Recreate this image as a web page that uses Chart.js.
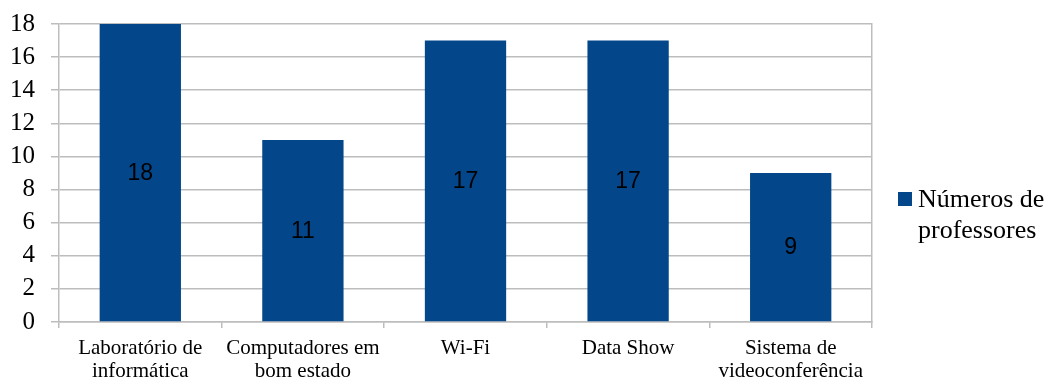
<!DOCTYPE html>
<html>
<head>
<meta charset="utf-8">
<script src="https://cdn.jsdelivr.net/npm/chart.js@4/dist/chart.umd.min.js"></script>
<style>
  html, body { margin: 0; padding: 0; background: #ffffff; }
  #wrap { width: 1051px; height: 379px; }
</style>
</head>
<body>
<div id="wrap"><canvas id="chart" width="1051" height="379"></canvas></div>
<script>
// Recursos disponíveis na escola
const categories = [
  ["Laboratório de", "informática"],
  ["Computadores em", "bom estado"],
  ["Wi-Fi"],
  ["Data Show"],
  ["Sistema de", "videoconferência"]
];
const seriesLabel = "Números de professores";
const professores = [18, 11, 17, 17, 9];
const yTicks = [0, 2, 4, 6, 8, 10, 12, 14, 16, 18];

const BAR = "#03468a";
const GRID = "#bdbdbd";
const SERIF = "'Liberation Serif', 'Times New Roman', serif";
const SANS = "'Liberation Sans', Arial, sans-serif";

// Value written in the middle of each bar
const barValues = {
  id: "barValues",
  afterDatasetsDraw(chart) {
    const ctx = chart.ctx;
    chart.data.datasets.forEach((ds, di) => {
      chart.getDatasetMeta(di).data.forEach((bar, i) => {
        ctx.save();
        ctx.font = "23px " + SANS;
        ctx.fillStyle = "#000000";
        ctx.textAlign = "center";
        ctx.textBaseline = "middle";
        ctx.fillText(String(ds.data[i]), bar.x, (bar.y + bar.base) / 2 + 1);
        ctx.restore();
      });
    });
  }
};

// Legend on the right with the label wrapped onto two lines
const sideLegend = {
  id: "sideLegend",
  afterDraw(chart) {
    const ctx = chart.ctx;
    const ds = chart.data.datasets[0];
    ctx.save();
    ctx.font = "26px " + SERIF;
    const maxW = 132;
    const words = ds.label.split(" ");
    const lines = [];
    let cur = "";
    words.forEach(w => {
      const t = cur ? cur + " " + w : w;
      if (ctx.measureText(t).width > maxW && cur) { lines.push(cur); cur = w; }
      else cur = t;
    });
    if (cur) lines.push(cur);
    ctx.fillStyle = ds.backgroundColor;
    ctx.fillRect(898, 192, 14, 14);
    ctx.fillStyle = "#000000";
    ctx.textAlign = "left";
    ctx.textBaseline = "alphabetic";
    lines.forEach((ln, k) => {
      ctx.fillText(ln, 918, 207 + k * 31);
    });
    ctx.restore();
  }
};

new Chart(document.getElementById("chart"), {
  type: "bar",
  data: {
    labels: categories,
    datasets: [{
      label: seriesLabel,
      data: professores,
      backgroundColor: BAR,
      borderWidth: 0,
      barPercentage: 0.5,
      categoryPercentage: 1.0
    }]
  },
  options: {
    responsive: false,
    animation: false,
    devicePixelRatio: 1,
    layout: { padding: { top: 24, right: 179, left: 0, bottom: 0 } },
    plugins: {
      legend: { display: false },
      tooltip: { enabled: false }
    },
    scales: {
      x: {
        offset: true,
        grid: {
          offset: true,
          drawOnChartArea: false,
          drawTicks: true,
          tickLength: 6,
          color: GRID,
          lineWidth: 1.5
        },
        border: { display: true, color: GRID, width: 1.5 },
        ticks: {
          color: "#000000",
          font: { family: SERIF, size: 21, lineHeight: 1.1 },
          padding: 9,
          maxRotation: 0,
          autoSkip: false
        },
        afterFit(scale) {
          scale.height = 57;
          scale.paddingLeft = 0;
          scale.paddingRight = 0;
        }
      },
      y: {
        min: 0,
        max: 18,
        afterBuildTicks(scale) { scale.ticks = yTicks.map(v => ({ value: v })); },
        grid: {
          color: GRID,
          lineWidth: 1.5,
          drawTicks: true,
          tickLength: 8
        },
        border: { display: true, color: GRID, width: 1.5 },
        ticks: {
          color: "#000000",
          font: { family: SERIF, size: 25 },
          padding: 16,
          autoSkip: false
        },
        afterFit(scale) {
          scale.width = 59;
          scale.paddingTop = 0;
          scale.paddingBottom = 0;
        }
      },
      yRight: {
        position: "right",
        min: 0,
        max: 18,
        grid: { drawOnChartArea: false, drawTicks: false },
        border: { display: true, color: GRID, width: 1.5 },
        ticks: { display: false },
        afterFit(scale) {
          scale.width = 0;
          scale.paddingTop = 0;
          scale.paddingBottom = 0;
        }
      }
    }
  },
  plugins: [barValues, sideLegend]
});
</script>
</body>
</html>
